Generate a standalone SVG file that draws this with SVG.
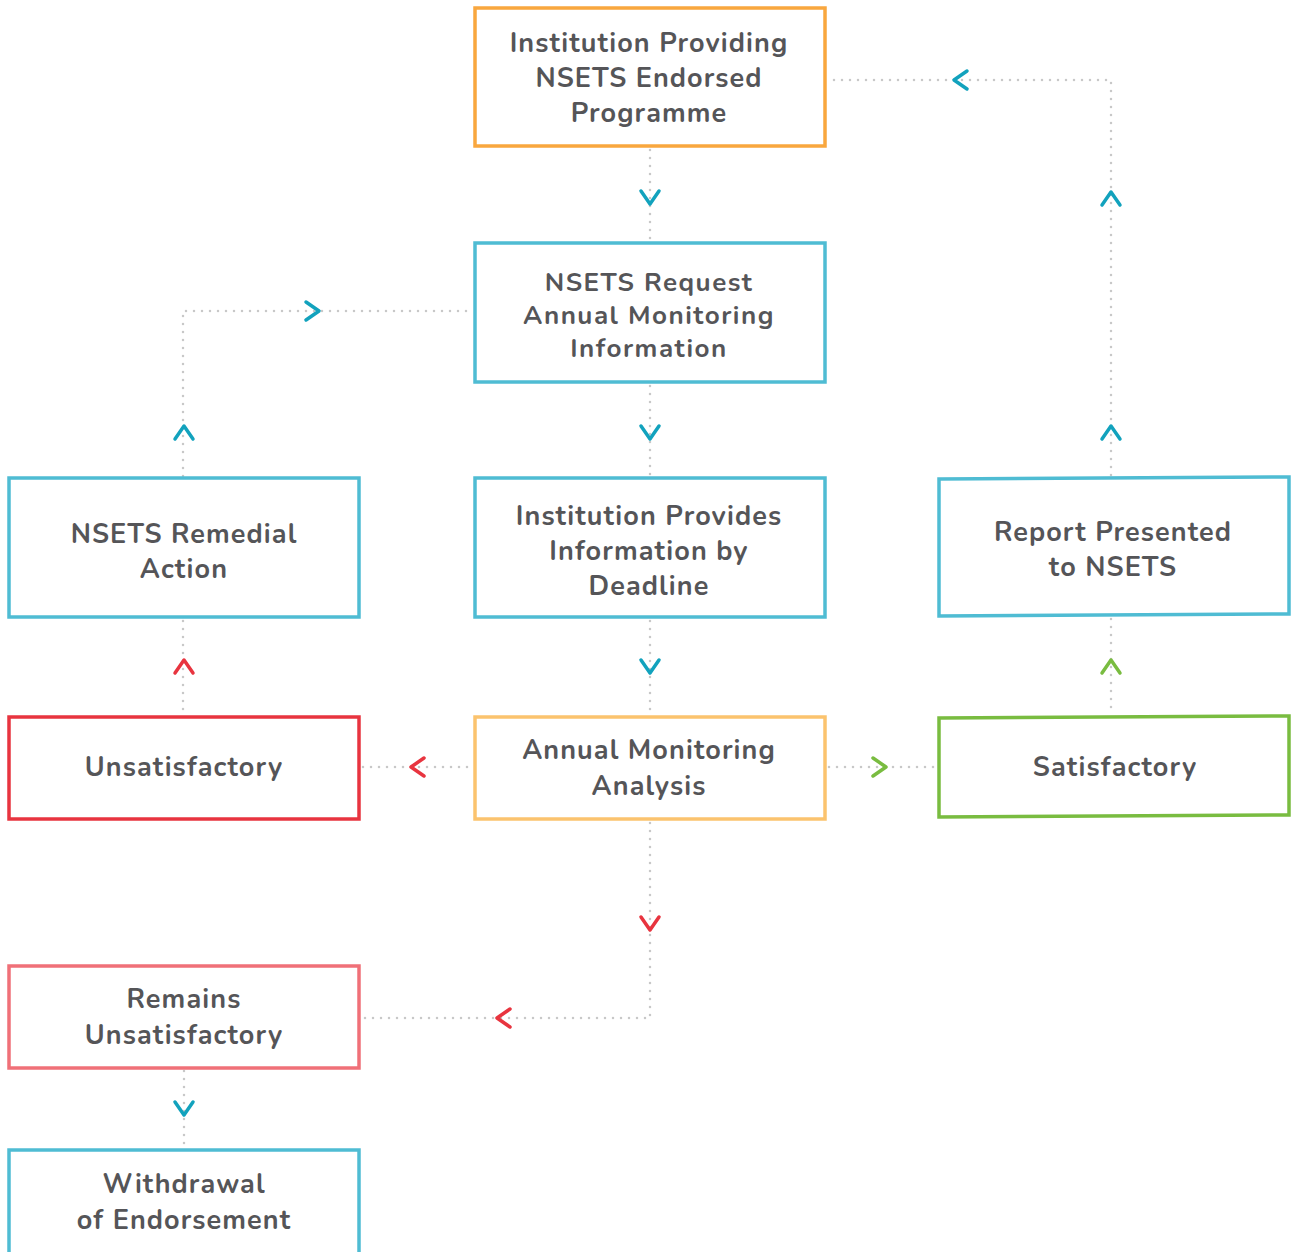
<svg xmlns="http://www.w3.org/2000/svg" width="1293" height="1252" viewBox="0 0 1293 1252">
<style>
.box{fill:#fff;stroke-width:3.5}
.t{font-family:"Nunito","Lato","Open Sans",sans-serif;font-weight:700;font-size:27px;letter-spacing:1.1px;fill:#555558;text-anchor:middle}
.s{font-size:26px;letter-spacing:1.5px}
.c{fill:none;stroke:#c8c8c8;stroke-width:2.5;stroke-dasharray:0 8;stroke-linecap:round}
.a{fill:none;stroke-width:3.5;stroke-linecap:round;stroke-linejoin:round}
.teal{stroke:#12a2bd}.red{stroke:#e8343f}.green{stroke:#79bc40}
</style>
<rect width="1293" height="1252" fill="#fff"/>
<g id="connectors">
<path class="c" d="M650 150V240"/>
<path class="c" d="M650 386V475"/>
<path class="c" d="M650 621V714"/>
<path class="c" d="M363 767H471"/>
<path class="c" d="M829 767H936"/>
<path class="c" d="M1111 619V714"/>
<path class="c" d="M1111 475V80H829"/>
<path class="c" d="M183 621V715"/>
<path class="c" d="M183 476V311H472"/>
<path class="c" d="M650 823V1018H364"/>
<path class="c" d="M184 1071V1148"/>
<polyline class="a teal" points="641,191 650,204 659,191"/>
<polyline class="a teal" points="641,426 650,439 659,426"/>
<polyline class="a teal" points="641,660 650,673 659,660"/>
<polyline class="a red" points="424,758 411,767 424,776"/>
<polyline class="a green" points="873,758 886,767 873,776"/>
<polyline class="a green" points="1102,673 1111,660 1120,673"/>
<polyline class="a teal" points="1102,439 1111,426 1120,439"/>
<polyline class="a teal" points="1102,205 1111,192 1120,205"/>
<polyline class="a teal" points="967,71 954,80 967,89"/>
<polyline class="a red" points="175,673 184,660 193,673"/>
<polyline class="a teal" points="175,439 184,426 193,439"/>
<polyline class="a teal" points="306,302 319,311 306,320"/>
<polyline class="a red" points="641,917 650,930 659,917"/>
<polyline class="a red" points="510,1009 497,1018 510,1027"/>
<polyline class="a teal" points="175,1102 184,1115 193,1102"/>
</g>
<g id="n1"><rect class="box" x="475" y="8" width="350" height="138" stroke="#f9a73e"/>
<text class="t" x="649" y="52">Institution Providing</text><text class="t" x="649" y="87">NSETS Endorsed</text><text class="t" x="649" y="122">Programme</text></g>
<g id="n2"><rect class="box" x="475" y="243" width="350" height="139" stroke="#4fbcd3"/>
<text class="t s" x="649" y="291">NSETS Request</text><text class="t s" x="649" y="324">Annual Monitoring</text><text class="t s" x="649" y="357">Information</text></g>
<g id="n3"><rect class="box" x="9" y="478" width="350" height="139" stroke="#4fbcd3"/>
<text class="t" x="184" y="543">NSETS Remedial</text><text class="t" x="184" y="578">Action</text></g>
<g id="n4"><rect class="box" x="475" y="478" width="350" height="139" stroke="#4fbcd3"/>
<text class="t" x="649" y="525">Institution Provides</text><text class="t" x="649" y="560">Information by</text><text class="t" x="649" y="595">Deadline</text></g>
<g id="n5"><polygon class="box" points="939,479 1289,477 1289,614 939,616" stroke="#4fbcd3"/>
<text class="t" x="1113" y="541">Report Presented</text><text class="t" x="1113" y="576">to NSETS</text></g>
<g id="n6"><rect class="box" x="9" y="717" width="350" height="102" stroke="#e8343f"/>
<text class="t" x="184" y="776">Unsatisfactory</text></g>
<g id="n7"><rect class="box" x="475" y="717" width="350" height="102" stroke="#fbc36e"/>
<text class="t" x="649" y="759">Annual Monitoring</text><text class="t" x="649" y="795">Analysis</text></g>
<g id="n8"><polygon class="box" points="939,718 1289,716 1289,815 939,817" stroke="#79bc40"/>
<text class="t" x="1115" y="776">Satisfactory</text></g>
<g id="n9"><rect class="box" x="9" y="966" width="350" height="102" stroke="#f07078"/>
<text class="t" x="184" y="1008">Remains</text><text class="t" x="184" y="1044">Unsatisfactory</text></g>
<g id="n10"><rect class="box" x="9" y="1150" width="350" height="112" stroke="#4fbcd3"/>
<text class="t" x="184" y="1193">Withdrawal</text><text class="t" x="184" y="1229">of Endorsement</text></g>
</svg>
